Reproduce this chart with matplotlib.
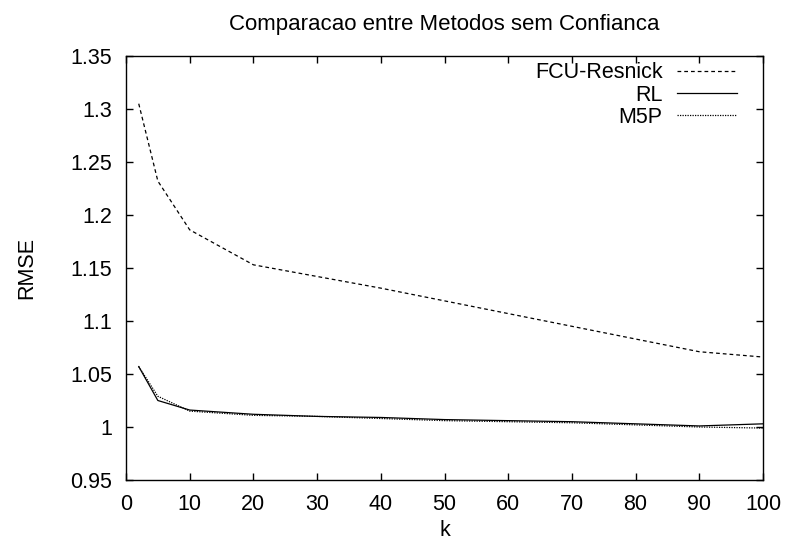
import matplotlib
matplotlib.use("Agg")
import matplotlib.pyplot as plt

plt.rcParams['font.family'] = ['Liberation Sans', 'DejaVu Sans']

k = [2, 5, 10, 20, 30, 40, 50, 60, 70, 80, 90, 100]
fcu = [1.305, 1.232, 1.186, 1.153, 1.142, 1.131, 1.119, 1.107, 1.095, 1.083, 1.071, 1.066]
rl = [1.057, 1.025, 1.016, 1.012, 1.010, 1.009, 1.007, 1.006, 1.005, 1.003, 1.001, 1.003]
m5p = [1.057, 1.029, 1.015, 1.011, 1.010, 1.008, 1.006, 1.005, 1.004, 1.002, 1.000, 0.999]

fig = plt.figure(figsize=(7.87, 5.43), dpi=100)
ax = fig.add_axes([126/787, 1-480/543, (763-126)/787, (480-56)/543])

ax.plot(k, fcu, color='black', lw=0.9, ls=(0, (3, 2.4)), label='FCU-Resnick')
ax.plot(k, rl, color='black', lw=0.9, ls='-', label='RL')
ax.plot(k, m5p, color='black', lw=0.9, ls=(0, (1, 1)), label='M5P')

ax.set_xlim(0, 100)
ax.set_ylim(0.95, 1.35)
ax.set_xticks(range(0, 101, 10))
ax.set_yticks([0.95, 1, 1.05, 1.1, 1.15, 1.2, 1.25, 1.3, 1.35])
ax.set_yticklabels(['0.95', '1', '1.05', '1.1', '1.15', '1.2', '1.25', '1.3', '1.35'])
ax.tick_params(direction='in', top=True, right=True, length=5, width=1, labelsize=15.5)
ax.tick_params(axis='x', pad=10)
ax.tick_params(axis='y', pad=10)
for s in ax.spines.values():
    s.set_linewidth(1)

ax.set_xlabel('k', fontsize=15.5, labelpad=4)
ax.set_ylabel('RMSE', fontsize=15.5, labelpad=24)
ax.set_title('Comparacao entre Metodos sem Confianca', fontsize=16, pad=19)

leg = ax.legend(loc='upper right', bbox_to_anchor=(0.959, 0.985), frameon=False,
                markerfirst=False, fontsize=15.5, handlelength=2.8, labelspacing=0.06,
                borderaxespad=0, borderpad=0, handletextpad=0.65)
for t in leg.get_texts():
    t.set_ha('right')

fig.savefig('out.png', dpi=100)
